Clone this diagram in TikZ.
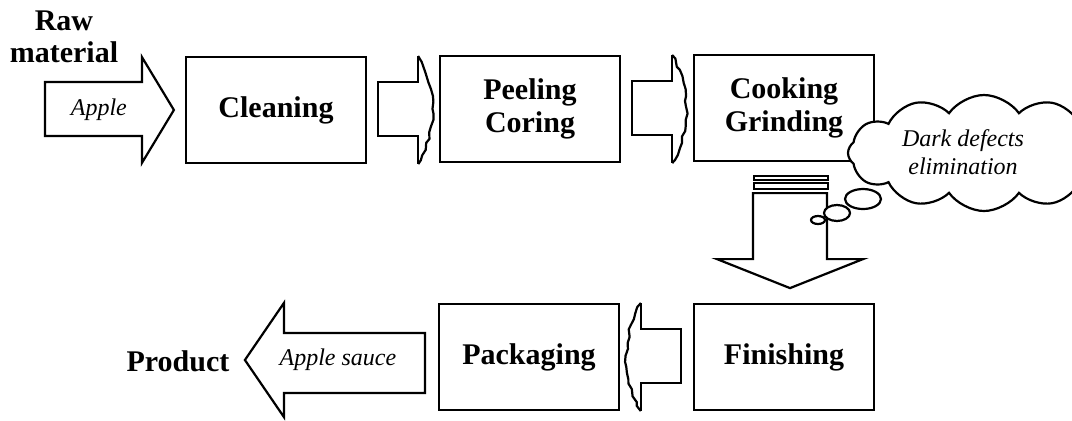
\documentclass[tikz,border=0pt]{standalone}
\usepackage{fontspec}
\setmainfont{Liberation Serif}
\usetikzlibrary{calc,shapes.symbols,decorations.pathmorphing}

% Block arrow with a rough, hand-cut head; #1 = start of the shaft (mid height),
% #2 = 1 to point right, -1 to point left
\newcommand\jaggedarrow[2]{%
  \draw[outline] ($(#1)+(#2*40,-54)$) -- ($(#1)+(#2*40,-28)$) -- ($(#1)+(0,-28)$)
    -- ($(#1)+(0,26)$) -- ($(#1)+(#2*40,26)$) -- ($(#1)+(#2*40,54)$);
  \draw[outline,decorate,decoration={random steps,segment length=3pt,amplitude=0.8pt}]
    ($(#1)+(#2*40,-54)$) .. controls ($(#1)+(#2*59,-22)$) and ($(#1)+(#2*59,22)$)
    .. ($(#1)+(#2*40,54)$);}

\begin{document}
\begin{tikzpicture}[x=0.5pt,y=-0.5pt,
  outline/.style={draw=black,line width=1.1pt,line join=miter},
  stage/.style={outline,fill=white,minimum width=90pt,minimum height=53pt,
    inner sep=0pt,align=center,font=\fontsize{15}{16.5}\selectfont\bfseries},
  flowlabel/.style={font=\fontsize{12}{14}\selectfont\itshape,inner sep=0pt,align=center},
  endlabel/.style={font=\fontsize{15}{16}\selectfont\bfseries,align=center,inner sep=0pt}]
\pgfmathsetseed{11}
\useasboundingbox (0,0) rectangle (1072,420);
\clip (0,0) rectangle (1072,420);

% process stages
\node[stage] (clean)  at (276,110) {Cleaning};
\node[stage] (peel)   at (530,109) {Peeling\\Coring};
\node[stage] (cook)   at (784,108) {Cooking\\Grinding};
\node[stage] (finish) at (784,357) {Finishing};
\node[stage] (pack)   at (529,357) {Packaging};

% input and output labels
\node[endlabel] (raw) at (64,37) {Raw\\material};
\node[endlabel] (product) at (178,361) {Product};

% raw material arrow
\draw[outline] ($(clean.west)+(-140,-28)$) -- ($(clean.west)+(-43,-28)$)
  -- ($(clean.west)+(-43,-53)$) -- ($(clean.west)+(-11,0)$)
  -- ($(clean.west)+(-43,53)$) -- ($(clean.west)+(-43,26)$)
  -- ($(clean.west)+(-140,26)$) -- cycle;
\node[flowlabel] (apple) at ($(clean.west)+(-86,0)$) {Apple};

% arrows between stages
\coordinate (j1) at ($(clean.east)+(11,0)$);
\coordinate (j2) at ($(peel.east)+(11,0)$);
\coordinate (j3) at ($(finish.west)+(-12,0)$);
\jaggedarrow{j1}{1}
\jaggedarrow{j2}{1}
\jaggedarrow{j3}{-1}

% downward arrow from cooking to finishing
\coordinate (d) at ($(cook.south)+(6,0)$);
\draw[outline] ($(d)+(-37,97)$) -- ($(d)+(-37,31)$) -- ($(d)+(37,31)$)
  -- ($(d)+(37,97)$) -- ($(d)+(73,97)$) -- ($(d)+(0,126)$)
  -- ($(d)+(-73,97)$) -- cycle;
\draw[draw=black,line width=0.8pt] ($(d)+(-36,14)$) rectangle ($(d)+(38,18)$);
\draw[draw=black,line width=0.8pt] ($(d)+(-36,21)$) rectangle ($(d)+(38,27)$);

% product arrow
\draw[outline] ($(pack.west)+(-13,-24)$) -- ($(pack.west)+(-154,-24)$)
  -- ($(pack.west)+(-154,-54)$) -- ($(pack.west)+(-193,3)$)
  -- ($(pack.west)+(-154,60)$) -- ($(pack.west)+(-154,36)$)
  -- ($(pack.west)+(-13,36)$) -- cycle;
\node[flowlabel] (sauce) at ($(pack.west)+(-100,3)$) {Apple sauce};

% side note cloud, running off the right edge
\node[cloud,outline,fill=white,cloud puffs=12,cloud puff arc=110,aspect=2.4,
  minimum width=136pt,minimum height=58pt,inner sep=0pt] (defect) at (984,153) {};
\node[flowlabel] (defecttext) at (963,152) {Dark defects\\elimination};
\draw[outline,fill=white] (863,199) ellipse [x radius=9pt,y radius=5pt];
\draw[outline,fill=white] (837,213) ellipse [x radius=6.5pt,y radius=4pt];
\draw[outline,fill=white] (818,220) ellipse [x radius=3.5pt,y radius=2pt];
\end{tikzpicture}
\end{document}
